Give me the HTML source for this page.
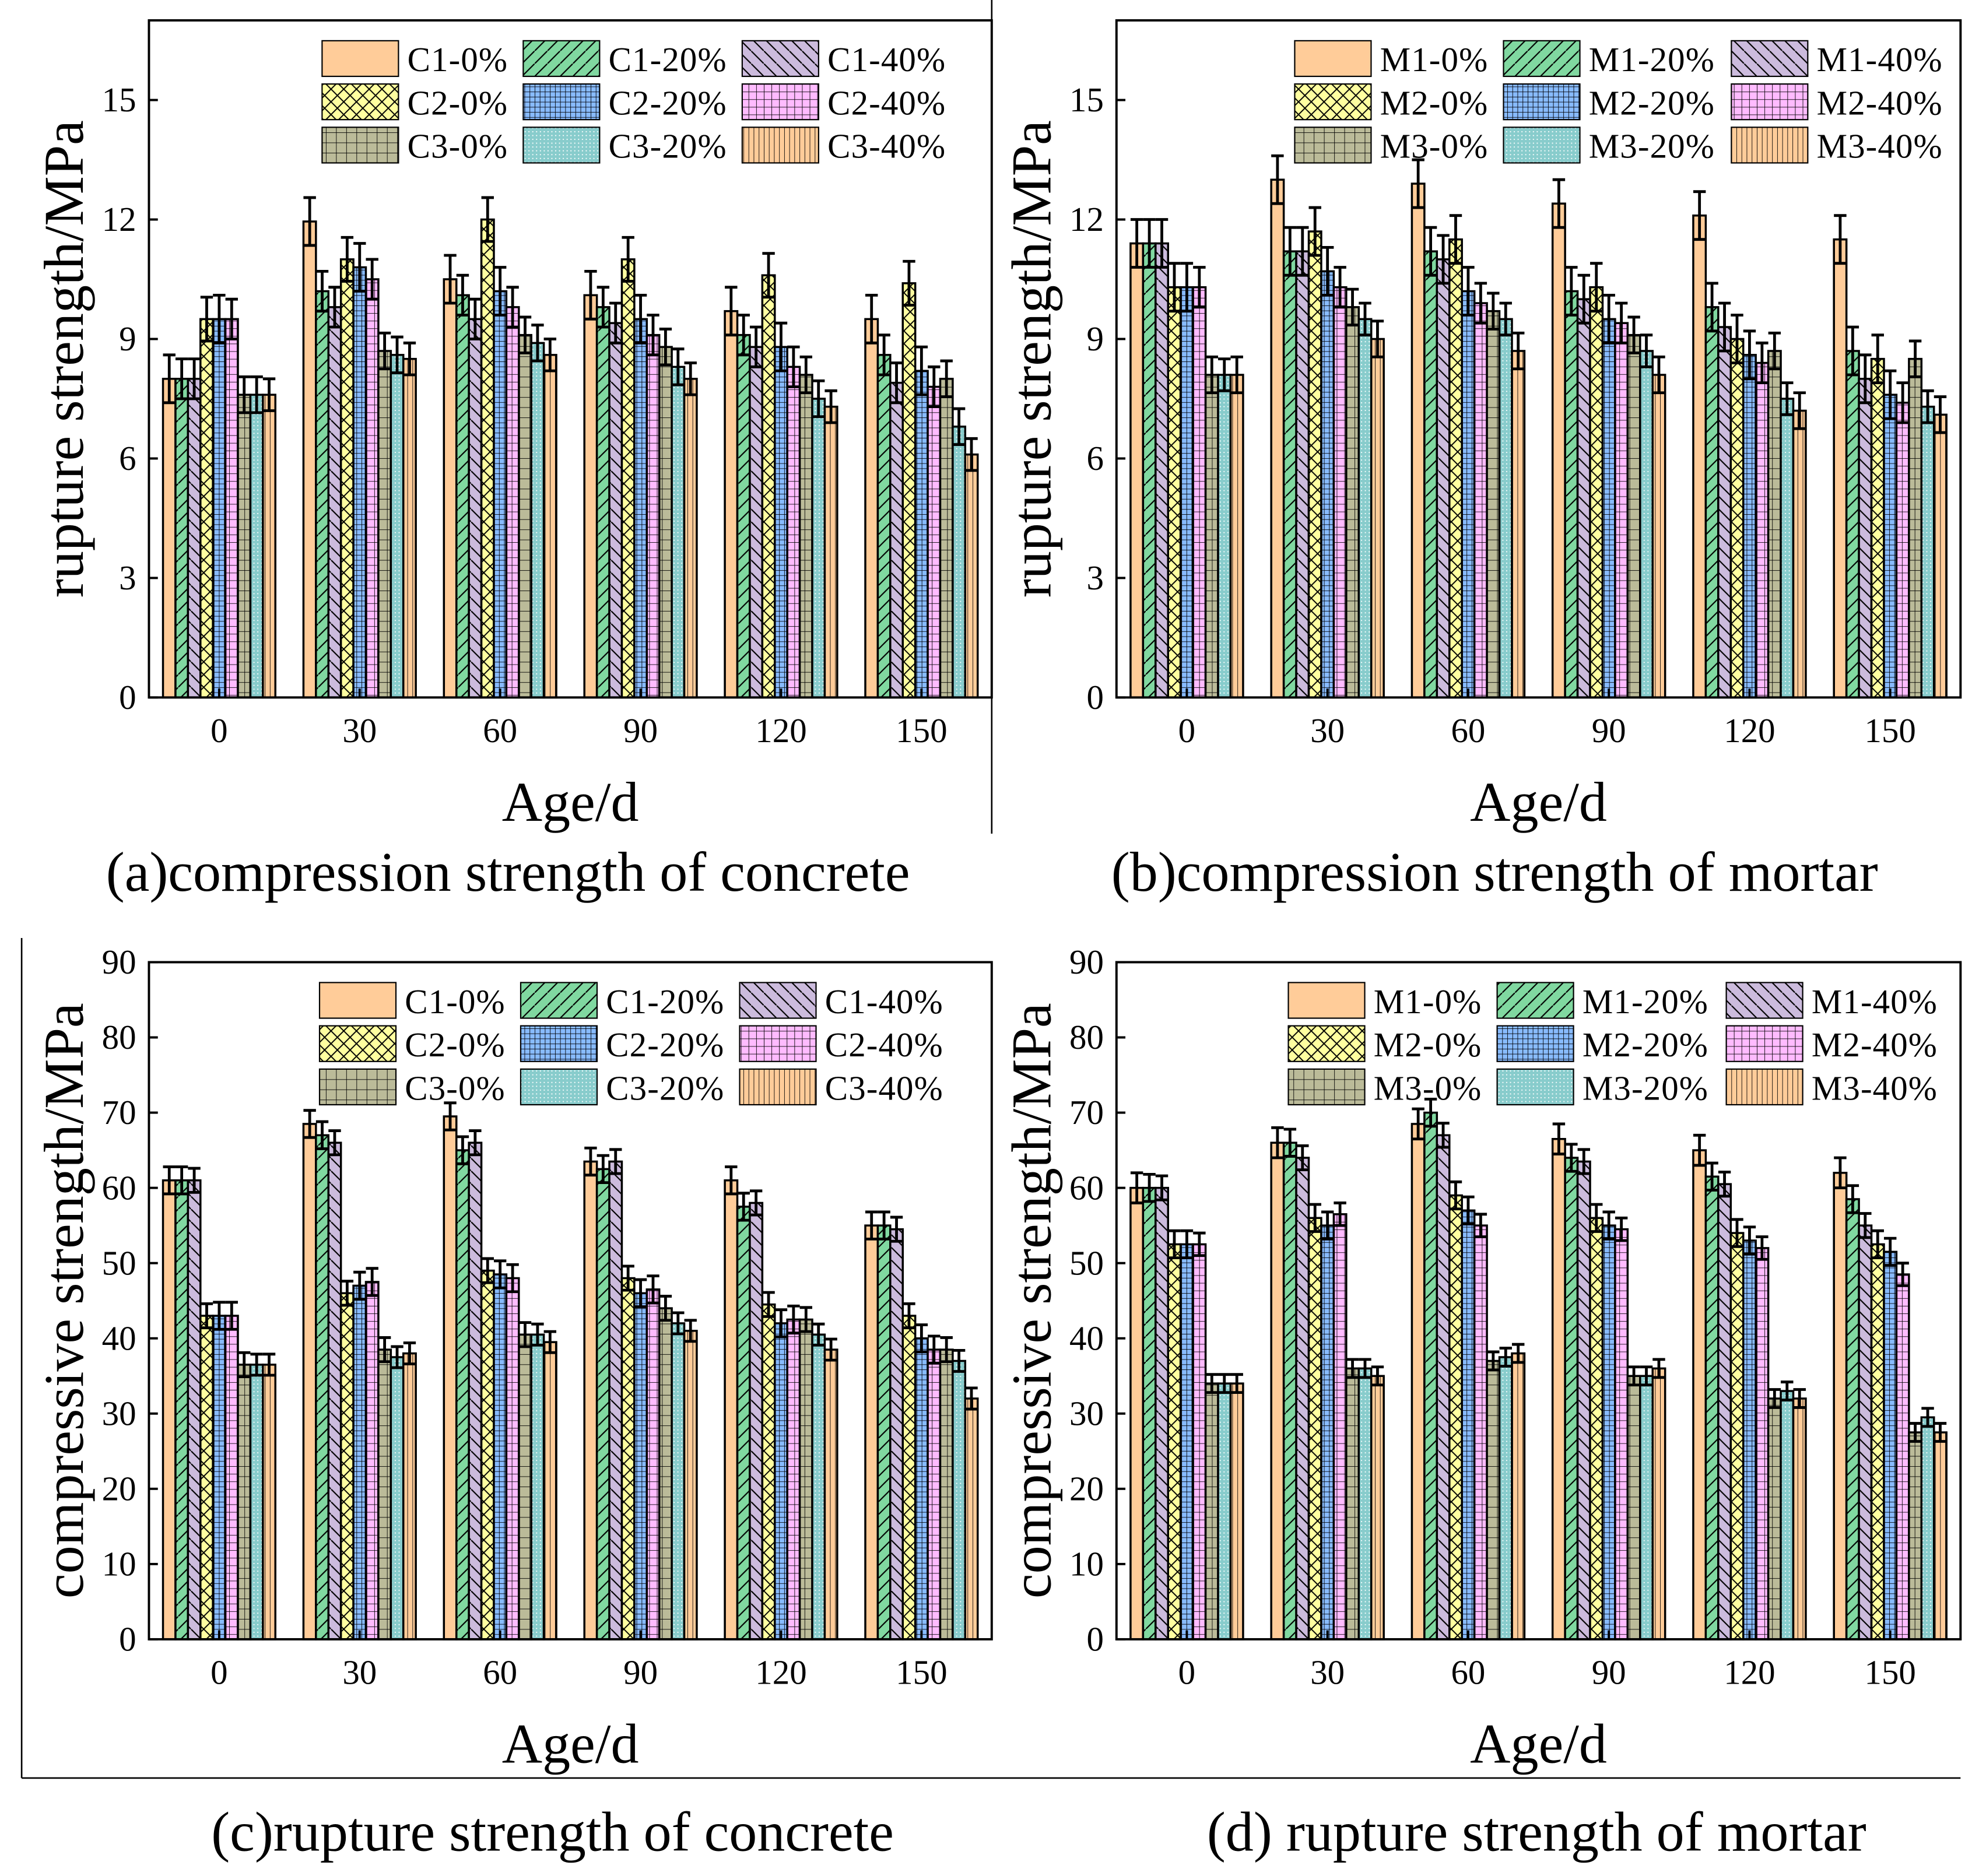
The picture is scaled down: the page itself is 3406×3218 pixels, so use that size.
<!DOCTYPE html>
<html><head><meta charset="utf-8"><style>
html,body{margin:0;padding:0;background:#fff;}
svg{display:block;}
text{font-family:"Liberation Serif",serif;fill:#000;}
</style></head><body>
<svg id="s" width="3406" height="3218" viewBox="0 0 1560 1474" preserveAspectRatio="none" xmlns="http://www.w3.org/2000/svg">
<defs>
<pattern id="p0" width="8" height="8" patternUnits="userSpaceOnUse"><rect width="8" height="8" fill="#FFCC99"/></pattern>
<pattern id="p1" width="10" height="10" patternUnits="userSpaceOnUse"><rect width="10" height="10" fill="#80D8A0"/><path d="M0 10L10 0" stroke="#000" stroke-width="1"/></pattern>
<pattern id="p2" width="10" height="10" patternUnits="userSpaceOnUse"><rect width="10" height="10" fill="#CCBBDD"/><path d="M0 0L10 10" stroke="#000" stroke-width="1"/></pattern>
<pattern id="p3" width="10" height="10" patternUnits="userSpaceOnUse"><rect width="10" height="10" fill="#FFFFA0"/><path d="M0 0L10 10M0 10L10 0" stroke="#000" stroke-width="0.9"/></pattern>
<pattern id="p4" width="4" height="4" patternUnits="userSpaceOnUse"><rect width="4" height="4" fill="#88BBFF"/><path d="M0 0H4M0 0V4" stroke="#000" stroke-width="0.8"/></pattern>
<pattern id="p5" width="6" height="6" patternUnits="userSpaceOnUse"><rect width="6" height="6" fill="#FFBBFF"/><path d="M0 0H6M0 0V6" stroke="#000" stroke-width="0.8"/></pattern>
<pattern id="p6" width="8" height="8" patternUnits="userSpaceOnUse"><rect width="8" height="8" fill="#BBBB99"/><path d="M0 0H8M0 0V8" stroke="#000" stroke-width="0.8"/></pattern>
<pattern id="p7" width="3" height="3" patternUnits="userSpaceOnUse"><rect width="3" height="3" fill="#88CCCC"/><circle cx="1.5" cy="1.5" r="0.5" fill="#fff"/></pattern>
<pattern id="p8" width="4" height="10" patternUnits="userSpaceOnUse"><rect width="4" height="10" fill="#FFCC99"/><path d="M0 0V10" stroke="#000" stroke-width="0.8"/></pattern>
</defs>
<line x1="779" y1="0" x2="779" y2="655" stroke="#000" stroke-width="1.2"/>
<line x1="17" y1="737" x2="17" y2="1397" stroke="#000" stroke-width="1.2"/>
<line x1="17" y1="1397" x2="1540" y2="1397" stroke="#000" stroke-width="1.2"/>
<text x="399" y="700" font-size="44" text-anchor="middle">(a)compression strength of concrete</text>
<text x="1174" y="700" font-size="44" text-anchor="middle">(b)compression strength of mortar</text>
<text x="434" y="1454" font-size="44" text-anchor="middle">(c)rupture strength of concrete</text>
<text x="1207" y="1454" font-size="44" text-anchor="middle">(d) rupture strength of mortar</text>
</svg>
<script>
const categories=["0","30","60","90","120","150"];
const seriesC=["C1-0%","C1-20%","C1-40%","C2-0%","C2-20%","C2-40%","C3-0%","C3-20%","C3-40%"];
const seriesM=["M1-0%","M1-20%","M1-40%","M2-0%","M2-20%","M2-40%","M3-0%","M3-20%","M3-40%"];
const dataA=[[8.0,8.0,8.0,9.5,9.5,9.5,7.6,7.6,7.6],[11.95,10.2,9.8,11.0,10.8,10.5,8.7,8.6,8.5],[10.5,10.1,9.5,12.0,10.2,9.8,9.1,8.9,8.6],[10.1,9.8,9.4,11.0,9.5,9.1,8.8,8.3,8.0],[9.7,9.1,8.8,10.6,8.8,8.3,8.1,7.5,7.3],[9.5,8.6,7.9,10.4,8.2,7.8,8.0,6.8,6.1]];
const dataB=[[11.4,11.4,11.4,10.3,10.3,10.3,8.1,8.1,8.1],[13.0,11.2,11.2,11.7,10.7,10.3,9.8,9.5,9.0],[12.9,11.2,11.0,11.5,10.2,9.9,9.7,9.5,8.7],[12.4,10.2,10.0,10.3,9.5,9.4,9.1,8.7,8.1],[12.1,9.8,9.3,9.0,8.6,8.4,8.7,7.5,7.2],[11.5,8.7,8.0,8.5,7.6,7.4,8.5,7.3,7.1]];
const dataC=[[61,61,61,43,43,43,36.5,36.5,36.5],[68.5,67,66,46,47,47.5,38.5,37.5,38],[69.5,65,66,49,48.5,48,40.5,40.5,39.5],[63.5,62.5,63.5,48,46,46.5,44,42,41],[61,57.5,58,44.5,42,42.5,42.5,40.5,38.5],[55,55,54.5,43,40,38.5,38.5,37,32]];
const dataD=[[60,60,60,52.5,52.5,52.5,34,34,34],[66,66,64,56,55,56.5,36,36,35],[68.5,70,67,59,57,55,37,37.5,38],[66.5,64,63.5,56,55,54.5,35,35,36],[65,61.5,60.5,54,53,52,32,33,32],[62,58.5,55,52.5,51.5,48.5,27.5,29.5,27.5]];
const errA=[0.6,0.5,0.5,0.55,0.6,0.5,0.45,0.45,0.4];
const errB=[0.6,0.6,0.6,0.6,0.6,0.5,0.45,0.4,0.45];
const errC=[1.8,1.8,1.6,1.6,1.8,1.8,1.6,1.4,1.4];
const errD=[2.0,1.8,1.6,1.8,1.8,1.5,1.2,1.2,1.2];
const ticksA=[0,3,6,9,12,15];
const ticksC=[0,10,20,30,40,50,60,70,80,90];
const NS="http://www.w3.org/2000/svg";
const svg=document.getElementById('s');
function mk(tag,attrs,parent){const e=document.createElementNS(NS,tag);for(const k in attrs)e.setAttribute(k,attrs[k]);(parent||svg).appendChild(e);return e;}
function chart(cfg){
  const g=mk('g',{});
  
  
  const {x0,x1,y0,y1,ymax}=cfg;
  const xs=i=>x0+(i+0.5)*(x1-x0)/categories.length;
  const ys=v=>y1-v/ymax*(y1-y0);
  const step=(x1-x0)/categories.length, bw=step*0.8/9;
  cfg.data.forEach((row,i)=>{row.forEach((v,j)=>{
    const bx=xs(i)-step*0.4+j*bw;
    const r=mk('rect',{x:bx,y:ys(v),width:bw,height:y1-ys(v),fill:'url(#p'+j+')',stroke:'#000','stroke-width':1.6},g);
    
    
    const e=cfg.err[j], cx=bx+bw/2;
    const eb=mk('path',{d:`M${cx} ${ys(v+e)}V${ys(v-e)}M${cx-bw/2} ${ys(v+e)}H${cx+bw/2}M${cx-bw/2} ${ys(v-e)}H${cx+bw/2}`,stroke:'#000','stroke-width':2.2,fill:'none'},g);
    
    
  });});
  const fr=mk('rect',{x:x0,y:y0,width:x1-x0,height:y1-y0,fill:'none',stroke:'#000','stroke-width':1.8},g);
  
  
  cfg.ticks.forEach(t=>{
    mk('line',{x1:x0,x2:x0+7,y1:ys(t),y2:ys(t),stroke:'#000','stroke-width':1.8},g);
    const tx=mk('text',{x:x0-10,y:ys(t)+9,'font-size':27,'text-anchor':'end'},g);
    tx.textContent=t;
    
    
  });
  categories.forEach((c,i)=>{
    mk('line',{x1:xs(i),x2:xs(i),y1:y1,y2:y1-7,stroke:'#000','stroke-width':1.8},g);
    const tx=mk('text',{x:xs(i),y:y1+35,'font-size':27,'text-anchor':'middle'},g);
    tx.textContent=c;
    
    
  });
  const xt=mk('text',{x:(x0+x1)/2,y:y1+97,'font-size':44,'text-anchor':'middle'},g);
  xt.textContent='Age/d';
  
  
  const yt=mk('text',{x:0,y:0,'font-size':44,'text-anchor':'middle',transform:`translate(${x0-52},${(y0+y1)/2}) rotate(-90)`},g);
  yt.textContent=cfg.ytitle;
  
  
  const colX=cfg.legX;
  cfg.series.forEach((s,j)=>{
    const lx=colX[j%3], ly=y0+16+Math.floor(j/3)*34;
    mk('rect',{x:lx,y:ly,width:60,height:28,fill:'url(#p'+j+')',stroke:'#000','stroke-width':1},g);
    const lt=mk('text',{x:lx+67,y:ly+24,'font-size':27,'letter-spacing':'0.5'},g);
    lt.textContent=s;
    
    
  });
}
chart({name:'chart-a',x0:117,x1:779,y0:16,y1:548,ymax:17,data:dataA,err:errA,ticks:ticksA,series:seriesC,ytitle:'rupture strength/MPa',legX:[253,411,583]});
chart({name:'chart-b',x0:877,x1:1540,y0:16,y1:548,ymax:17,data:dataB,err:errB,ticks:ticksA,series:seriesM,ytitle:'rupture strength/MPa',legX:[1017,1181,1360]});
chart({name:'chart-c',x0:117,x1:779,y0:756,y1:1288,ymax:90,data:dataC,err:errC,ticks:ticksC,series:seriesC,ytitle:'compressive strength/MPa',legX:[251,409,581]});
chart({name:'chart-d',x0:877,x1:1540,y0:756,y1:1288,ymax:90,data:dataD,err:errD,ticks:ticksC,series:seriesM,ytitle:'compressive strength/MPa',legX:[1012,1176,1356]});
</script>
</body></html>
